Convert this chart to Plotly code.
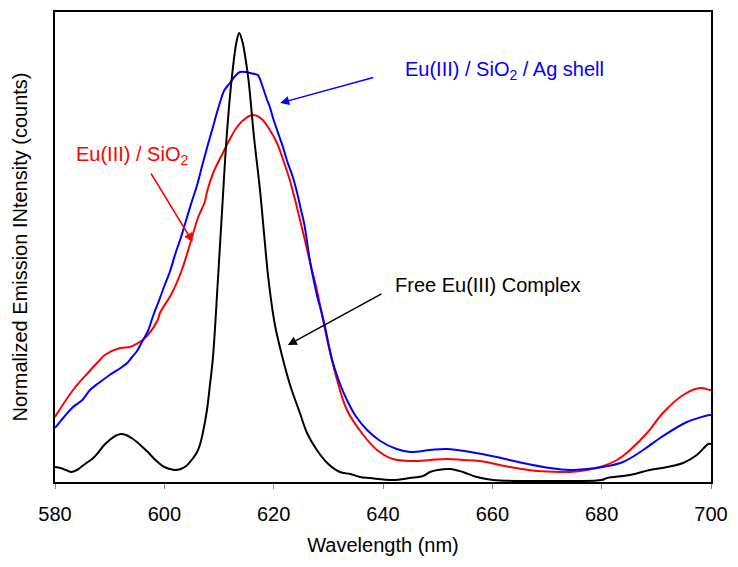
import plotly.graph_objects as go

# Free Eu(III) complex (black)
free_wl = [580, 581, 582, 583, 584, 585, 586, 587, 588, 589, 590, 591, 592, 593, 594, 595, 596, 597, 598, 599,
           600, 601, 602, 603, 604, 605, 606, 606.5, 607, 607.8, 608.3, 608.9, 609.8, 610.6, 611.4, 612.3, 613.2,
           613.7, 614.3, 614.8, 615.4, 616.4, 617.5, 618.3, 619.0, 620.2, 621.5, 623, 624.8, 626.1, 627.9, 629.8,
           632.1, 634, 635.8, 637.6, 641.8, 644.9, 647.3, 648.6, 650, 652.3, 654.6, 657.2, 660.1, 665, 670, 675,
           680, 681, 685.2, 688.8, 692, 694.9, 697.4, 699.5, 700]
free_int = [15, 14, 12, 10, 12, 16, 20, 24, 30, 37, 42, 46, 48, 47, 44, 40, 35, 30, 24, 19,
            15, 13, 12, 13, 16, 22, 30, 37, 48, 72, 95, 125, 202, 275, 345, 402, 440,
            449, 440, 425, 402, 345, 292, 245, 205, 158, 127, 97, 69, 49, 32, 19,
            10, 8, 5, 4, 2, 4, 6, 10, 12, 13, 10, 5, 2, 1, 1, 1,
            2, 4, 7, 12, 15, 19, 27, 38, 38]

# Eu(III) / SiO2 (red)
sio2_wl = [580, 583.3, 586, 588.2, 589.1, 591.9, 593.7, 595.2, 596, 597, 598.8, 599.2, 601.4, 603.2, 604.7,
           606.2, 607.4, 607.8, 609, 610.7, 612, 613.3, 614.7, 616, 617, 618, 619.3, 620.6, 621.8, 623, 624.2,
           625.4, 626.6, 627.9, 629.8, 631.5, 633.4, 636.4, 638.9, 641.8, 645.5, 648.6, 651.7, 654.6, 657.7,
           663.2, 668.2, 672.9, 674.2, 677.3, 679.7, 682.8, 685.2, 688.3, 691.2, 694.9, 698, 699.8, 700]
sio2_int = [65, 92, 109, 122, 127, 134, 135, 139, 142, 147, 162, 169, 189, 212, 238,
            265, 280, 290, 310, 329, 343, 355, 363, 367, 366, 362, 352, 339, 321, 301, 276,
            249, 221, 192, 142, 104, 72, 47, 32, 23, 21, 22, 23, 22, 21,
            15, 11, 10, 10, 12, 15, 22, 32, 49, 69, 87, 94, 92, 92]

# Eu(III) / SiO2 / Ag shell (blue)
ag_wl = [580, 583.3, 585, 586.4, 588, 590, 592, 593.2, 594.1, 595, 595.9, 597, 598, 599, 600, 601, 602, 603,
         604, 605, 606, 607, 608, 609, 609.6, 610.5, 611, 612, 612.8, 613.8, 615, 615.7, 616.5, 617.1, 618,
         618.8, 619.3, 620, 621, 621.7, 622.4, 623.5, 624.3, 625, 625.6, 626.6, 627.2, 628, 628.8, 629.4,
         630.7, 632, 633.4, 635, 637.1, 639.5, 642.5, 645, 648.6, 651.7, 656, 660.8, 665.6, 670.5, 674.2,
         677.3, 680.2, 683.9, 687.6, 690.7, 695.6, 699.8, 700]
ag_int = [54, 75, 82, 92, 99, 107, 114, 119, 125, 131, 140, 151, 167, 181, 196, 210, 228, 244,
          262, 280, 297, 318, 338, 357, 369, 385, 392, 399, 405, 410, 410, 409, 408, 407, 395,
          382, 375, 362, 346, 335, 322, 305, 289, 272, 258, 222, 205, 185, 169, 155,
          122, 100, 82, 66, 52, 41, 33, 30, 32, 33, 30, 25, 19, 14, 12,
          13, 15, 20, 32, 44, 60, 67, 67]

x_ticks = [580, 600, 620, 640, 660, 680, 700]

FONT = "Arial, Liberation Sans, Helvetica, sans-serif"

fig = go.Figure()
fig.add_trace(go.Scatter(x=sio2_wl, y=sio2_int, mode="lines", line=dict(color="#ff0000", width=2),
                         line_shape="spline", name="Eu(III) / SiO2"))
fig.add_trace(go.Scatter(x=ag_wl, y=ag_int, mode="lines", line=dict(color="#0000ff", width=2),
                         line_shape="spline", name="Eu(III) / SiO2 / Ag shell"))
fig.add_trace(go.Scatter(x=free_wl, y=free_int, mode="lines", line=dict(color="#000000", width=2),
                         line_shape="spline", name="Free Eu(III) Complex"))

# arrows
arrows = [
    dict(x=621.2, y=379, ax=638.5, ay=405, color="#0000ff"),
    dict(x=605.2, y=240, ax=597.4, ay=310, color="#ff0000"),
    dict(x=622.6, y=137, ax=640.0, ay=189, color="#000000"),
]
for a in arrows:
    fig.add_annotation(x=a["x"], y=a["y"], ax=a["ax"], ay=a["ay"], xref="x", yref="y", axref="x", ayref="y",
                       showarrow=True, arrowhead=2, arrowsize=1.2, arrowwidth=1.5, arrowcolor=a["color"], text="")

# labels
fig.add_annotation(x=643.7, y=412, xref="x", yref="y", xanchor="left", yanchor="middle", showarrow=False,
                   text="Eu(III) / SiO<sub>2</sub> / Ag shell", font=dict(family=FONT, size=20, color="#0000ff"))
fig.add_annotation(x=583.5, y=327, xref="x", yref="y", xanchor="left", yanchor="middle", showarrow=False,
                   text="Eu(III) / SiO<sub>2</sub>", font=dict(family=FONT, size=20, color="#ff0000"))
fig.add_annotation(x=641.8, y=197, xref="x", yref="y", xanchor="left", yanchor="middle", showarrow=False,
                   text="Free Eu(III) Complex", font=dict(family=FONT, size=20, color="#000000"))

fig.update_layout(
    width=730, height=559,
    margin=dict(l=47, r=27, t=4, b=85, autoexpand=False),
    paper_bgcolor="white", plot_bgcolor="white",
    showlegend=False,
    font=dict(family=FONT, size=20, color="black"),
    xaxis=dict(range=[580, 700], tickvals=x_ticks, ticks="outside", ticklen=5, tickcolor="#888",
               ticklabelstandoff=8, automargin=False,
               showline=True, linecolor="black", linewidth=2, mirror=True, showgrid=False, zeroline=False,
               tickfont=dict(size=20), title=dict(text="Wavelength (nm)", font=dict(size=20), standoff=14)),
    yaxis=dict(range=[0, 470], showticklabels=False, ticks="", showline=True, linecolor="black", linewidth=2,
               mirror=True, showgrid=False, zeroline=False, automargin=False,
               title=dict(text="Normalized Emission INtensity (counts)", font=dict(size=20), standoff=20)),
)

fig.write_html("out.html")
